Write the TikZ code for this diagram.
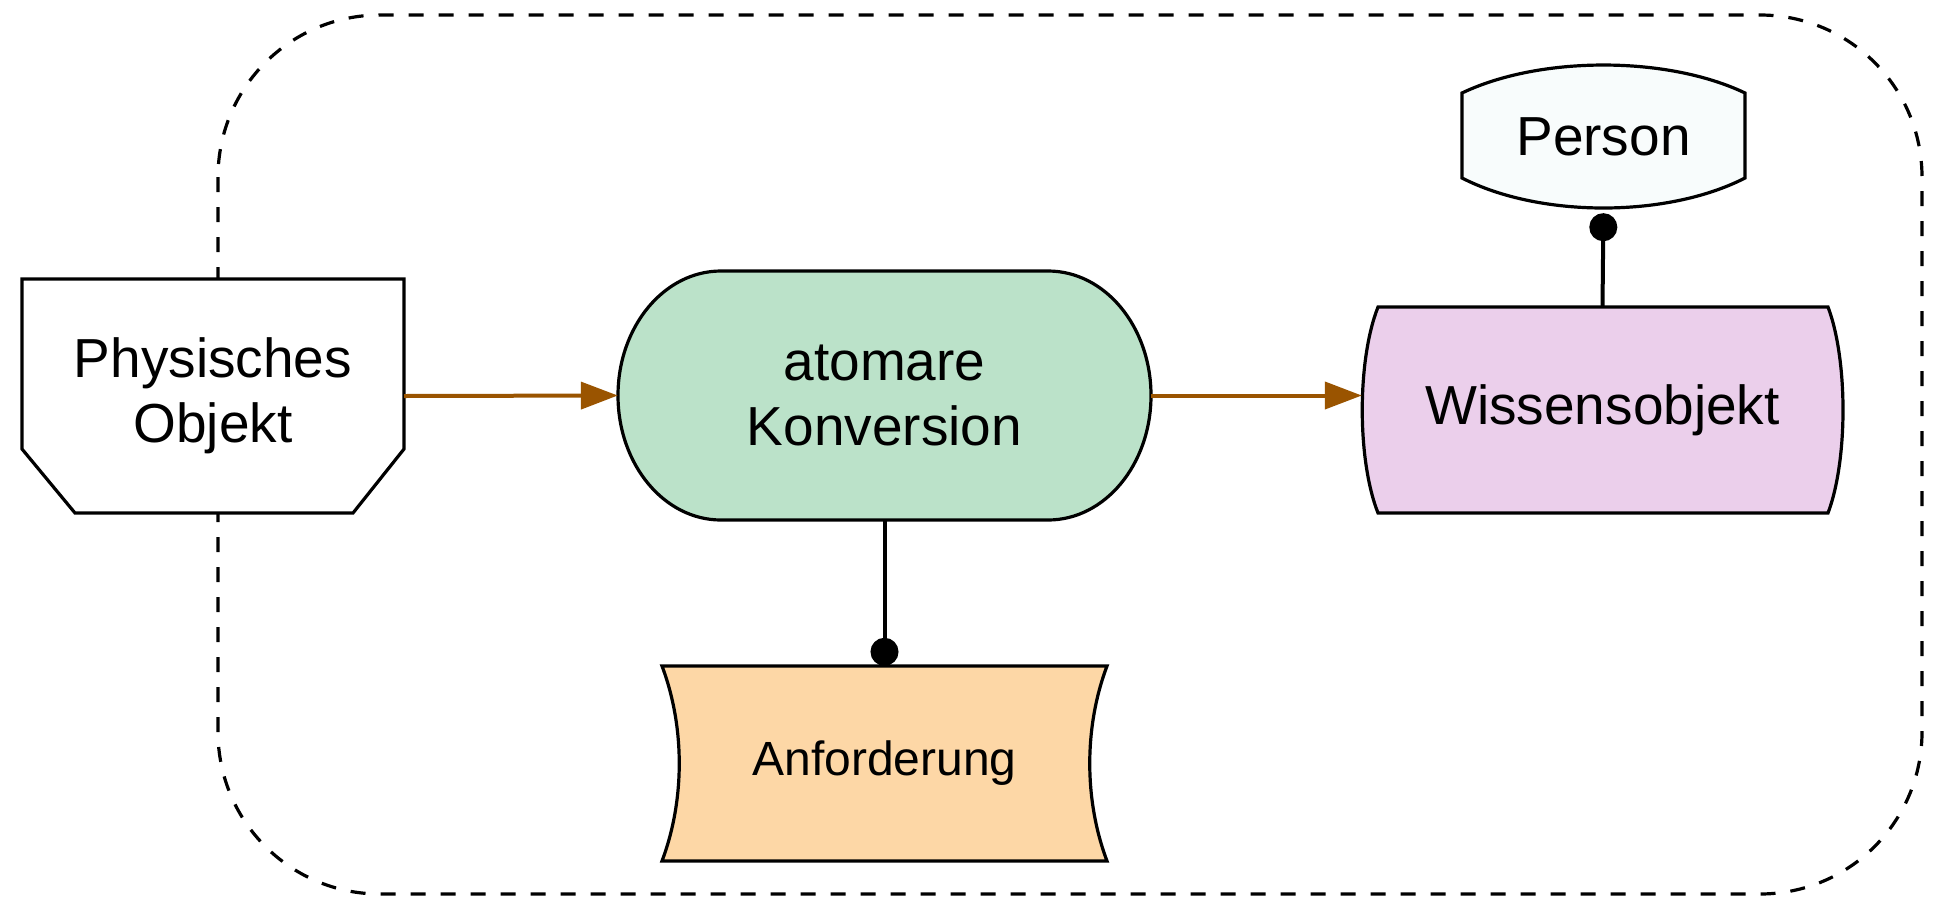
\documentclass[tikz,border=0pt]{standalone}
\usepackage{fontspec}
\setmainfont{Liberation Sans}
\usetikzlibrary{arrows.meta}
\pgfdeclarelayer{back}
\pgfdeclarelayer{shapes}
\pgfsetlayers{back,shapes,main}
\definecolor{grn}{HTML}{BBE2C9}
\definecolor{org}{HTML}{FDD7A6}
\definecolor{prp}{HTML}{EBCFEB}
\definecolor{prs}{HTML}{F8FCFC}
\definecolor{brn}{HTML}{9A5400}
\tikzset{
  lbl/.style={draw=none, inner sep=0pt, align=center, font=\fontsize{55}{65}\selectfont},
  shp/.style={draw=black, line width=3.2pt, line join=miter},
  flow/.style={draw=brn, line width=4pt, -{Triangle[length=37pt,width=27pt]}},
  link/.style={draw=black, line width=4pt, -{Circle[length=28pt]}},
}
\begin{document}
\begin{tikzpicture}[x=1pt,y=-1pt]
\useasboundingbox (0,0) rectangle (1941,900);
% nodes (text)
\node[lbl, minimum width=382pt, minimum height=234pt] (phys) at (213,396) {Physisches\\Objekt};
\node[lbl, minimum width=533pt, minimum height=249pt] (gr) at (884.5,395.5) {atomare\\Konversion};
\node[lbl, minimum width=481pt, minimum height=206pt] (wiss) at (1602.5,410) {Wissensobjekt};
\node[lbl, minimum width=283pt, minimum height=143pt] (pers) at (1603.5,136.5) {Person};
\node[lbl, minimum width=445pt, minimum height=195pt, font=\fontsize{48}{58}\selectfont] (anf) at (884.5,763.5) {Anforderung};
% outer dashed frame
\begin{pgfonlayer}{back}
\draw[line width=3.2pt, dash pattern=on 15pt off 15pt, rounded corners=162pt] (218,15) rectangle (1922,894);
\end{pgfonlayer}
% shapes
\begin{pgfonlayer}{shapes}
\path[shp, fill=white] (22,279) -- (404,279) -- (404,449) -- (353,513) -- (75,513) -- (22,449) -- cycle;
\path[shp, fill=grn] (721,271) -- (1048,271) .. controls (1105,271) and (1151,326.7) .. (1151,395.5)
  .. controls (1151,464.3) and (1105,520) .. (1048,520) -- (721,520)
  .. controls (664,520) and (618,464.3) .. (618,395.5)
  .. controls (618,326.7) and (664,271) .. cycle;
\path[shp, fill=prp] (1378,307) -- (1828,307) .. controls (1848,360) and (1848,460) .. (1828,513)
  -- (1378,513) .. controls (1357,460) and (1357,360) .. cycle;
\path[shp, fill=prs] (1462,93) .. controls (1540,55.7) and (1667,55.7) .. (1745,93) -- (1745,178)
  .. controls (1667,218) and (1540,218) .. (1462,178) -- cycle;
\path[shp, fill=org] (662,666) -- (1107,666) .. controls (1084,727) and (1084,800) .. (1107,861)
  -- (662,861) .. controls (685,800) and (685,727) .. cycle;
\end{pgfonlayer}
% connectors
\draw[flow] (phys.east) -- (gr.west);
\draw[flow] (gr.east) -- (gr.east -| wiss.west);
\draw[link, shorten >=5pt] (wiss.north) -- (pers.south);
\draw[link] (gr.south) -- (anf.north);
\end{tikzpicture}
\end{document}
